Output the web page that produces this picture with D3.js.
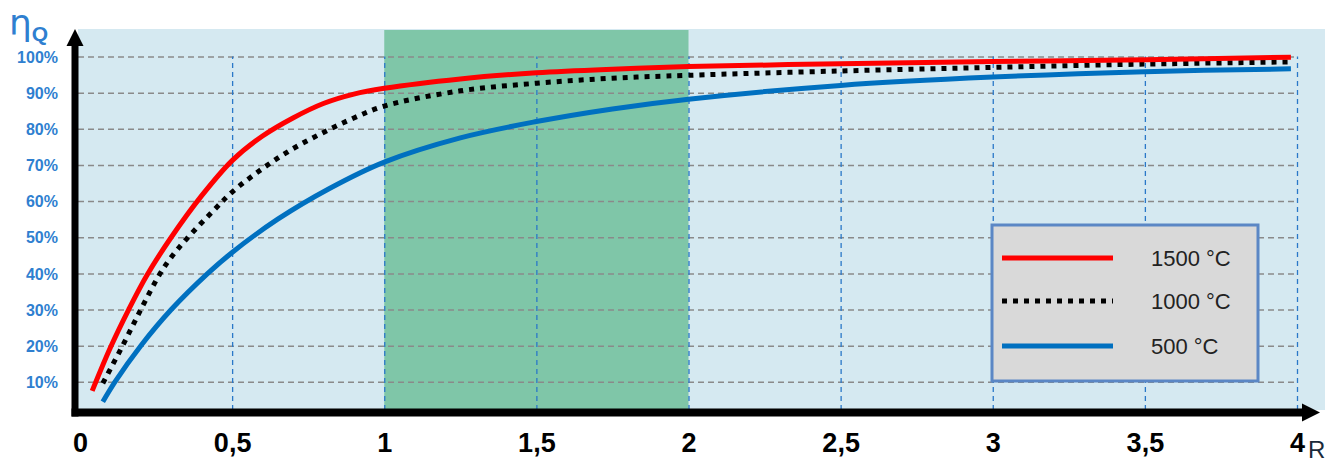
<!DOCTYPE html>
<html><head><meta charset="utf-8">
<script src="https://cdn.jsdelivr.net/npm/d3@7"></script>
<style>html,body{margin:0;padding:0;background:#fff;}svg{display:block;}</style>
</head><body>
<svg id="chart" width="1332" height="464"></svg>
<script>
// ---- data ----
const xTicks = [0, 0.5, 1, 1.5, 2, 2.5, 3, 3.5, 4];
const xTickLabels = ["0", "0,5", "1", "1,5", "2", "2,5", "3", "3,5", "4"];
const yTicks = [10, 20, 30, 40, 50, 60, 70, 80, 90, 100];
const yTickLabels = ["10%", "20%", "30%", "40%", "50%", "60%", "70%", "80%", "90%", "100%"];
const band = [1, 2];
const seriesNames = ["1500 °C", "1000 °C", "500 °C"];
const r1500 = [0.04, 0.1, 0.16, 0.22, 0.3, 0.4, 0.5, 0.6, 0.7, 0.8, 0.9, 1, 1.25, 1.5, 1.75, 2, 2.5, 3, 3.5, 3.98];
const v1500 = [7.5, 19.5, 30, 39.5, 50, 61.5, 71.2, 78, 83, 87, 89.6, 91.2, 93.8, 95.5, 96.5, 97.2, 98, 98.6, 99.1, 99.8];
const r1000 = [0.075, 0.14, 0.2, 0.26, 0.3, 0.35, 0.44, 0.5, 0.6, 0.7, 0.8, 0.9, 1, 1.25, 1.5, 1.75, 2, 2.5, 3, 3.5, 3.98];
const v1000 = [9.6, 20, 30, 39.5, 44.5, 49.5, 57.5, 62.5, 69, 74.5, 79, 83, 86.3, 90.5, 92.6, 94, 94.8, 96, 97, 97.9, 98.5];
const r500 = [0.075, 0.115, 0.2, 0.3, 0.42, 0.5, 0.65, 0.82, 1, 1.25, 1.5, 1.75, 2, 2.5, 3, 3.5, 3.98];
const v500 = [4.5, 10, 20, 30, 40, 45.8, 55, 63.5, 70.8, 77.5, 82, 85.5, 88.2, 92, 94.3, 95.8, 96.6];

// ---- drawing ----
const svg = d3.select("#chart");
const x = d3.scaleLinear().domain([0, 4]).range([80, 1297]);
const y = d3.scaleLinear().domain([0, 100]).range([418, 56.5]);
const plotTop = 29, plotBottom = 410, plotLeft = 78, plotRight = 1325;

svg.append("rect").attr("x", plotLeft).attr("y", plotTop)
  .attr("width", plotRight - plotLeft).attr("height", plotBottom - plotTop).attr("fill", "#d5e9f1");
svg.append("rect").attr("x", x(band[0])).attr("y", plotTop + 1)
  .attr("width", x(band[1]) - x(band[0])).attr("height", plotBottom - plotTop - 1).attr("fill", "#7fc6a8");

// horizontal grid
const gy = svg.append("g").attr("transform", `translate(${plotLeft},0)`)
  .call(d3.axisRight(y).tickValues(yTicks).tickSize(x(4) - plotLeft).tickFormat(""));
gy.select(".domain").remove();
gy.selectAll("line").attr("stroke", "#8a8a8a").attr("stroke-width", 1.5).attr("stroke-dasharray", "6,4");

// vertical grid
const gx = svg.append("g").attr("transform", `translate(0,${plotBottom})`)
  .call(d3.axisTop(x).tickValues(xTicks.filter(d => d > 0)).tickSize(plotBottom - y(100)).tickFormat(""));
gx.select(".domain").remove();
gx.selectAll("line").attr("stroke", "#2a78c8").attr("stroke-width", 1.3).attr("stroke-dasharray", "5,4");

// curves
const line = d3.line().x(d => x(d[0])).y(d => y(d[1])).curve(d3.curveCatmullRom.alpha(0.5));
const zip = (a, b) => a.map((d, i) => [d, b[i]]);
svg.append("path").datum(zip(r500, v500)).attr("d", line)
  .attr("fill", "none").attr("stroke", "#0070c0").attr("stroke-width", 5);
svg.append("path").datum(zip(r1000, v1000)).attr("d", line)
  .attr("fill", "none").attr("stroke", "#000").attr("stroke-width", 5).attr("stroke-dasharray", "5,6");
svg.append("path").datum(zip(r1500, v1500)).attr("d", line)
  .attr("fill", "none").attr("stroke", "#ff0000").attr("stroke-width", 5);

// axes lines with arrows
svg.append("line").attr("x1", 75).attr("x2", 75).attr("y1", 44).attr("y2", 416.5)
  .attr("stroke", "#000").attr("stroke-width", 7);
svg.append("path").attr("d", "M75,29 L83.5,46 L66.5,46 Z").attr("fill", "#000");
svg.append("line").attr("x1", 71.5).attr("x2", 1304).attr("y1", 412.5).attr("y2", 412.5)
  .attr("stroke", "#000").attr("stroke-width", 8);
svg.append("path").attr("d", "M1320,412.5 L1302,403.5 L1302,421.5 Z").attr("fill", "#000");

// y tick labels
const yl = svg.append("g").attr("transform", "translate(58,0)")
  .call(d3.axisLeft(y).tickValues(yTicks).tickSize(0).tickPadding(0)
    .tickFormat((d, i) => yTickLabels[i]));
yl.select(".domain").remove();
yl.selectAll("text").attr("fill", "#2f7fd0").attr("font-family", "Liberation Sans, Arial, sans-serif")
  .attr("font-weight", "bold").attr("font-size", 16).attr("dy", "0.35em");

// x tick labels
const xl = svg.append("g").attr("transform", "translate(0,433)")
  .call(d3.axisBottom(x).tickValues(xTicks).tickSize(0).tickPadding(0)
    .tickFormat((d, i) => xTickLabels[i]));
xl.select(".domain").remove();
xl.selectAll("text").attr("fill", "#000").attr("font-family", "Liberation Sans, Arial, sans-serif")
  .attr("font-weight", "bold").attr("font-size", 27).attr("dy", "0.72em");

// axis titles
svg.append("text").attr("x", 1308).attr("y", 458).text("R")
  .attr("font-family", "Liberation Sans, Arial, sans-serif").attr("font-size", 24).attr("fill", "#1a2a3a");
const eta = svg.append("text").attr("x", 9).attr("y", 35)
  .attr("font-family", "DejaVu Sans, sans-serif").attr("fill", "#2f7fd0");
eta.append("tspan").text("η").attr("font-size", 36);
eta.append("tspan").text("Q").attr("font-size", 21).attr("font-weight", "bold")
  .attr("font-family", "Liberation Sans, Arial, sans-serif").attr("dy", 6);

// legend
const lg = svg.append("g");
lg.append("rect").attr("x", 992).attr("y", 225).attr("width", 266).attr("height", 156)
  .attr("fill", "#d9d9d9").attr("stroke", "#5b87c5").attr("stroke-width", 3);
const legY = [258, 301, 346];
const legStyles = [
  {c: "#ff0000", d: null},
  {c: "#000", d: "5,6"},
  {c: "#0070c0", d: null}
];
seriesNames.forEach((n, i) => {
  lg.append("line").attr("x1", 1002).attr("x2", 1113).attr("y1", legY[i]).attr("y2", legY[i])
    .attr("stroke", legStyles[i].c).attr("stroke-width", 5)
    .attr("stroke-dasharray", legStyles[i].d);
  lg.append("text").attr("x", 1151).attr("y", legY[i]).attr("dy", "0.36em").text(n)
    .attr("font-family", "Liberation Sans, Arial, sans-serif").attr("font-size", 22).attr("fill", "#222");
});
</script>
</body></html>
